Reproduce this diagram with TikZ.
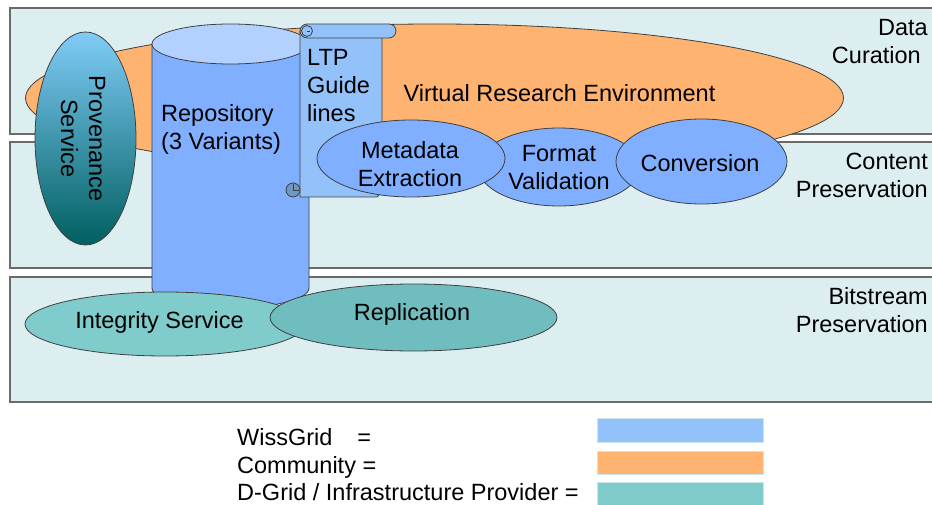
\documentclass[tikz,border=0pt]{standalone}
\usepackage{fontspec}
\setmainfont{Liberation Sans}
\usetikzlibrary{shapes.geometric}
\definecolor{bandfill}{HTML}{DDEEF0}
\definecolor{bandline}{HTML}{6A6A6A}
\definecolor{orangec}{HTML}{FFB370}
\definecolor{bluec}{HTML}{80AFFF}
\definecolor{cyltopc}{HTML}{B3D1FF}
\definecolor{scrollc}{HTML}{92C2F9}
\definecolor{curlc}{HTML}{7097BD}
\definecolor{tealA}{HTML}{80CCCC}
\definecolor{tealB}{HTML}{70BDC0}
\definecolor{provtop}{HTML}{80CCF8}
\definecolor{provbot}{HTML}{005F5F}
\definecolor{edgec}{HTML}{404040}
\definecolor{legline}{HTML}{C8E8EC}
\begin{document}
\begin{tikzpicture}[x=1pt,y=-1pt,
  band/.style={fill=bandfill, draw=bandline, line width=1.1pt},
  shapeline/.style={draw=edgec, line width=0.8pt},
  oval/.style={ellipse, shapeline, inner sep=0pt},
  txt/.style={font=\fontsize{23.5}{28}\selectfont, inner sep=0pt, text=black},
  legbox/.style={draw=legline, line width=0.8pt, inner sep=0pt, anchor=north west, minimum width=166pt}
]
\useasboundingbox (0,0) rectangle (932,505);
\clip (0,0) rectangle (932,505);
\fill[white] (0,0) rectangle (932,505);
% bands
\draw[band] (10,8) rectangle (945,134);
\draw[band] (10,142) rectangle (945,268);
\draw[band] (10,277) rectangle (945,402);
% virtual research environment
\node[oval, fill=orangec, minimum width=818pt, minimum height=148pt] (vre) at (434.5,98) {};
% repository cylinder
\filldraw[shapeline, fill=bluec] (152,44) -- (152,288)
  arc[start angle=180, end angle=0, x radius=78.5, y radius=20] -- (309,44) -- cycle;
\filldraw[shapeline, fill=cyltopc] (230.5,44) ellipse[x radius=78.5, y radius=20];
% provenance
\node[oval, top color=provtop, bottom color=provbot, minimum width=101pt, minimum height=213pt] (prov) at (85.5,138.5) {};
% scroll
\filldraw[shapeline, fill=scrollc] (300,31) -- (300,197) -- (377,197) -- (382,192) -- (382,31) -- cycle;
\filldraw[shapeline, fill=scrollc, rounded corners=7pt] (300,24) rectangle (396,38);
\draw[shapeline, fill=scrollc] (307,31) circle[radius=5.5];
\draw[shapeline] (307,31) -- (310,31);
\filldraw[shapeline, fill=curlc] (293,190) circle[radius=7];
\draw[shapeline] (293,184) -- (293,190) -- (299,190);
% service ellipses
\node[oval, fill=bluec, minimum width=162pt, minimum height=78pt] (fmt) at (559,167) {};
\node[oval, fill=bluec, minimum width=188pt, minimum height=77pt] (meta) at (411,158.5) {};
\node[oval, fill=bluec, minimum width=171pt, minimum height=85pt] (conv) at (701.5,161.5) {};
\node[oval, fill=tealA, minimum width=280pt, minimum height=64pt] (integ) at (165,324) {};
\node[oval, fill=tealB, minimum width=287pt, minimum height=67pt] (repl) at (413.5,317.5) {};
% texts
\node[txt] (vretext) at (559.5,93.5) {Virtual Research Environment};
\node[txt, anchor=west, align=left] (repotext) at (161,129) {Repository\\(3 Variants)};
\node[txt, anchor=west, align=left] (ltptext) at (307,86) {LTP\\Guide\\lines};
\node[txt, align=center] (metatext) at (410,164) {Metadata\\Extraction};
\node[txt, align=center] (fmttext) at (559,168) {Format\\Validation};
\node[txt] (convtext) at (700,163.5) {Conversion};
\node[txt] (integtext) at (159.5,322.5) {Integrity Service};
\node[txt] (repltext) at (412,314) {Replication};
\node[txt, rotate=-90, align=center] (provtext) at (83,138.5) {Provenance\\Service};
% band labels
\node[txt, anchor=east, align=right] (lbldc) at (928,42) {Data\\Curation\rule{7pt}{0pt}};
\node[txt, anchor=east, align=right] (lblcp) at (928,175) {Content\\Preservation};
\node[txt, anchor=east, align=right] (lblbp) at (928,310) {Bitstream\\Preservation};
% legend
\node[txt, anchor=base west] (legwt) at (237,445) {WissGrid\hspace{25pt}=};
\node[txt, anchor=base west] (legct) at (237,473) {Community =};
\node[txt, anchor=base west] (legdt) at (237,500) {D-Grid / Infrastructure Provider =};
\node[legbox, fill=scrollc, minimum height=24pt] (legw) at (597,418) {};
\node[legbox, fill=orangec, minimum height=23pt] (legc) at (597,451) {};
\node[legbox, fill=tealA, minimum height=26pt] (legd) at (597,482) {};
\end{tikzpicture}
\end{document}
